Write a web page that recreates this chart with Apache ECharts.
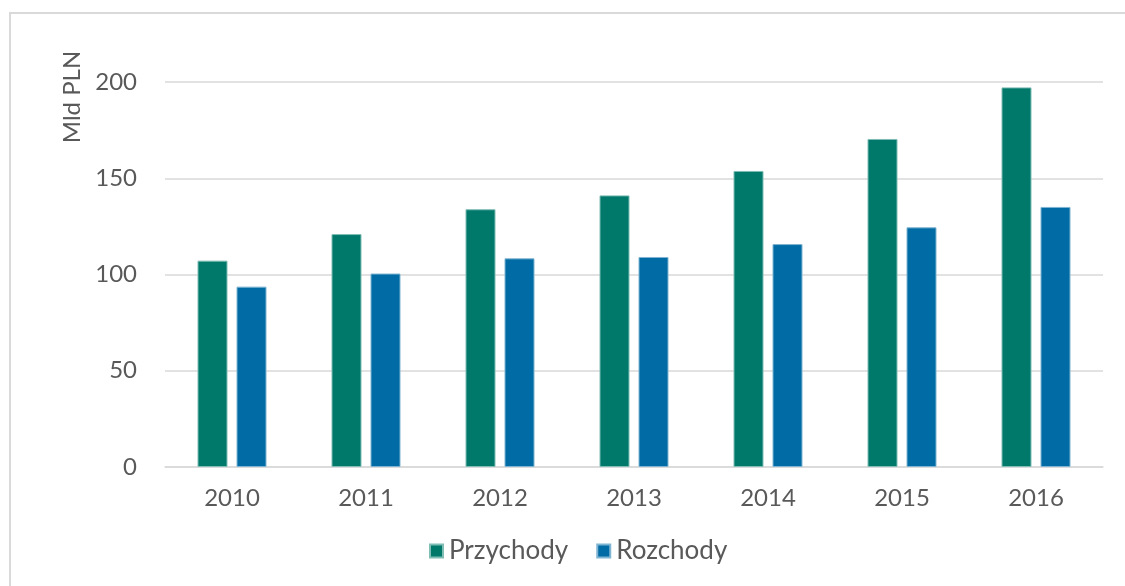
<!DOCTYPE html>
<html>
<head>
<meta charset="utf-8">
<script src="https://cdn.jsdelivr.net/npm/echarts@6/dist/echarts.min.js"></script>
<style>
html,body{margin:0;padding:0;background:#fff;overflow:hidden;}
#frame{position:absolute;left:9px;top:12px;width:1300px;height:800px;border:2px solid #d9d9d9;box-sizing:border-box;}
#chart{position:absolute;left:0;top:0;width:1125px;height:586px;}
</style>
</head>
<body>
<div id="frame"></div>
<div id="chart"></div>
<script>
const categories = ['2010','2011','2012','2013','2014','2015','2016'];
const przychody = [107.2, 121, 133.9, 141.1, 153.8, 170.4, 197.2];
const rozchody = [93.7, 100.5, 108.4, 109.1, 115.8, 124.5, 135.1];
const yTicks = {min: 0, max: 200, interval: 50};
const yName = 'Mld PLN';

const chart = echarts.init(document.getElementById('chart'));
const font = 'Lato';
const fs = 24;
chart.setOption({
  animation: false,
  textStyle: {fontFamily: font},
  grid: {left: 165, right: 22, top: 82, bottom: 119},
  legend: {
    data: ['Przychody','Rozchody'],
    bottom: 17,
    left: 424,
    icon: 'rect',
    itemWidth: 13,
    itemHeight: 13,
    itemGap: 28,
    textStyle: {color: '#595959', fontSize: 26, fontFamily: font, padding: [0, 0, 0, 1]}
  },
  graphic: [{
    type: 'text',
    x: 72, y: 97,
    rotation: Math.PI/2,
    style: {text: yName, fill: '#595959', fontSize: fs, fontFamily: font, textAlign: 'center', textVerticalAlign: 'middle'}
  }],
  xAxis: {
    type: 'category',
    data: categories,
    axisTick: {show: false},
    axisLine: {lineStyle: {color: '#d9d9d9', width: 1.5}},
    axisLabel: {color: '#595959', fontSize: fs, margin: 19, fontFamily: font}
  },
  yAxis: {
    type: 'value',
    min: yTicks.min, max: yTicks.max, interval: yTicks.interval,
    axisLine: {show: false},
    axisTick: {show: false},
    axisLabel: {color: '#595959', fontSize: fs, margin: 28, fontFamily: font},
    splitLine: {lineStyle: {color: '#d9d9d9', width: 1.5}}
  },
  series: [
    {name: 'Przychody', type: 'bar', data: przychody, barWidth: 30, barGap: '30%',
     itemStyle: {color: '#00796B', borderColor: '#7fbdb5', borderWidth: 1}},
    {name: 'Rozchody', type: 'bar', data: rozchody, barWidth: 30, barGap: '30%',
     itemStyle: {color: '#006BA4', borderColor: '#7fb5d2', borderWidth: 1}}
  ]
});
</script>
</body>
</html>
